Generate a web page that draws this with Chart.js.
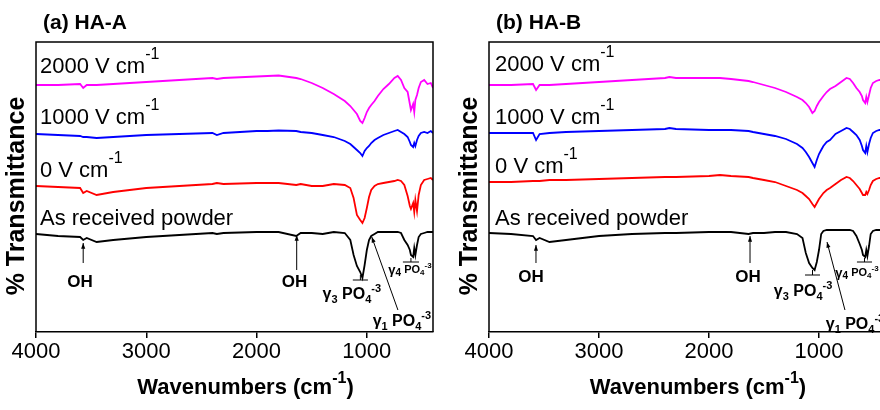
<!DOCTYPE html>
<html>
<head>
<meta charset="utf-8">
<script src="https://cdn.jsdelivr.net/npm/chart.js@4.4.1/dist/chart.umd.min.js"></script>
<style>
  body { margin: 0; background: #fff; }
  #wrap { position: relative; width: 880px; height: 410px; overflow: hidden; }
  canvas { position: absolute; top: 0; }
</style>
</head>
<body>
<div id="wrap">
  <canvas id="chartA" width="440" height="410" style="left:0"></canvas>
  <canvas id="chartB" width="452" height="410" style="left:440px"></canvas>
</div>
<script>
// Datos (transmitancia en unidades arbitrarias, curvas desplazadas)

const wavenumbers = [4000, 3800, 3600, 3572, 3540, 3450, 3300, 3000, 2700, 2400, 2360, 2300, 2000, 1900, 1800, 1640, 1600, 1500, 1400, 1300, 1200, 1150, 1120, 1090, 1060, 1040, 1020, 1000, 980, 960, 930, 900, 850, 800, 750, 720, 690, 660, 630, 610, 600, 580, 570, 560, 545, 530, 510, 480, 450, 420, 400];
const xTicks = [4000, 3000, 2000, 1000];

const seriesNames = ["2000 V cm", "1000 V cm", "0 V cm", "As received powder"];
const seriesSup = ["-1", "-1", "-1", ""];
const seriesColors = ["#ff00ff", "#0000ff", "#ff0000", "#000000"];

// (a) HA-A
const haA_2000 = [247,247,248,244,247,247,248,250,252,254,253,254,255.5,256,256.5,254,253,249,244,238,231,226,222,218,211,209,214,220,224,227,231,236,243,248,254,256,252,244,240,228,222,228,220,232,237,244,250,252,248,249,244];
const haA_1000 = [198,197,196,195,195,194,195,197,198,199,197,199,201,201,201.5,201,200,199,197,195,191,188,185,182,179,176,181,184,186,189,192,194,197,199,201,202,200,198,195,190,187,185,189,186,192,196,199,200,199,201,199];
const haA_0 = [146,145,144,139,141,137,140,144,146,148,149,148,149,149,149,147,148,146,146,148,147,144,134,117,112,109,114,124,135,142,146,148,149,150,151,152,151,147,136,126,123,129,120,132,121,137,147,152,153,154,152];
const haA_powder = [98,96,95,92,94,90,92,95,97,99,98,99,100,100,100,96,99,99,98,100,99,92,77,66,60,54,67,82,92,96,98,100,100,100,100,100,99,92,87,82,77,75,84,77,87,95,98,99,100,100,100];

// (b) HA-B
const haB_2000 = [247,247,248,242,247,247,248,250,252,254,255,254,254,254,253,251,250,247,244,240,235,232,229,225,219,221,226,230,233,236,240,243,246,250,254,253,249,244,240,236,232,229,235,230,237,244,249,251,252,252,251];
const haB_1000 = [199,199,199,192,198,199,200,201,202,203,204,203,202,202,202,201,200,198,196,193,188,184,180,175,169,165,172,178,182,186,190,192,198,201,204,203,200,197,192,186,182,179,186,180,188,194,199,201,202,202,201];
const haB_0 = [150,150,151,151,151,152,152,153,154,155,155,155,156,157,156,155,154,152,150,146,142,139,136,133,128,125,129,133,136,139,142,144,148,152,155,154,151,147,143,139,137,137,140,138,142,147,151,153,154,154,154];
const haB_powder = [99,98,96,92,94,90,92,96,98,99,99,99,100,100,100,98,99,99,100,100,98,94,79,69,64,62,70,82,98,101,102,102,102,102,102,102,101,96,88,82,77,75,82,76,86,98,101,102,102,102,102];

const FONT = "'Liberation Sans', Arial, sans-serif";

// Texto con subindices / superindices: [texto, tamaño, negrita, desplazamiento]
function rich(ctx, parts, px, py, align) {
  let total = 0;
  parts.forEach((p) => {
    ctx.font = (p[2] ? "bold " : "") + p[1] + "px " + FONT;
    p.w = ctx.measureText(p[0]).width;
    total += p.w;
  });
  let cx = align === "center" ? px - total / 2 : px;
  ctx.textAlign = "left";
  ctx.textBaseline = "middle";
  parts.forEach((p) => {
    ctx.font = (p[2] ? "bold " : "") + p[1] + "px " + FONT;
    ctx.fillText(p[0], cx, py + (p[3] || 0));
    cx += p.w;
  });
}

function arrow(ctx, x1, y1, x2, y2) {
  ctx.beginPath();
  ctx.moveTo(x1, y1);
  ctx.lineTo(x2, y2);
  ctx.stroke();
  const ang = Math.atan2(y2 - y1, x2 - x1);
  ctx.beginPath();
  ctx.moveTo(x2, y2);
  ctx.lineTo(x2 - 6 * Math.cos(ang - 0.35), y2 - 6 * Math.sin(ang - 0.35));
  ctx.lineTo(x2 - 6 * Math.cos(ang + 0.35), y2 - 6 * Math.sin(ang + 0.35));
  ctx.closePath();
  ctx.fill();
}

function bracket(ctx, x, y, w1, w2, v, vTick) {
  const xa = x.getPixelForValue(w1), xb = x.getPixelForValue(w2);
  const yy = y.getPixelForValue(v);
  ctx.beginPath();
  ctx.moveTo(xa, yy);
  ctx.lineTo(xb, yy);
  ctx.moveTo((xa + xb) / 2, yy);
  ctx.lineTo((xa + xb) / 2, y.getPixelForValue(vTick));
  ctx.stroke();
}

const gamma = (n, big, small) => [["γ", big, true], [n, small, true, big * 0.3], [" PO", big, true], ["4", small, true, big * 0.3], ["-3", small, true, -big * 0.35]];

const ftirText = {
  id: "ftirText",
  afterDraw(chart) {
    const o = chart.options.plugins.ftirText;
    const { ctx, chartArea: a, scales: { x, y } } = chart;
    const X = (w) => x.getPixelForValue(w);
    const Y = (v) => y.getPixelForValue(v);
    ctx.save();
    ctx.fillStyle = "#000";
    ctx.strokeStyle = "#000";

    // marco
    ctx.lineWidth = 1.5;
    ctx.beginPath();
    ctx.moveTo(a.left, a.bottom);
    ctx.lineTo(a.left, a.top);
    ctx.lineTo(a.right, a.top);
    ctx.lineTo(a.right, a.bottom);
    ctx.stroke();

    // titulo del panel
    rich(ctx, [[o.title, 21, true]], a.left + 7, a.top - 19, "left");

    // nombres de las curvas
    seriesNames.forEach((name, i) => {
      const parts = [[name, 22, false]];
      if (seriesSup[i]) parts.push([seriesSup[i], 16, false, -12]);
      rich(ctx, parts, X(o.labelW), Y(o.labelV[i]), "left");
    });

    // titulos de ejes
    rich(ctx, [["Wavenumbers (cm", 22, true], ["-1", 16, true, -9], [")", 22, true]], X(2100), a.bottom + 56, "center");
    ctx.save();
    ctx.translate(a.left - 19, 196);
    ctx.rotate(-Math.PI / 2);
    rich(ctx, [["% Transmittance", 25, true]], 0, 0, "center");
    ctx.restore();

    // anotaciones
    ctx.lineWidth = 1;
    o.oh.forEach((p) => {
      rich(ctx, [["OH", 17, true]], X(p.tw), Y(p.tv), "center");
      arrow(ctx, X(p.aw), Y(p.a1), X(p.aw), Y(p.a2));
    });
    const g3 = o.g3, g4 = o.g4, g1 = o.g1;
    rich(ctx, gamma("3", 16, 11), X(g3.tw), Y(g3.tv), "center");
    bracket(ctx, x, y, g3.b1, g3.b2, g3.bv, g3.bv + 5);
    rich(ctx, [["γ", 13, true], ["4", 10, true, 3], [" PO", 11, true], ["4", 8, true, 3], ["-3", 8, true, -4]], X(g4.tw), Y(g4.tv), "center");
    bracket(ctx, x, y, g4.b1, g4.b2, g4.bv, g4.bv + 4);
    rich(ctx, gamma("1", 16, 11), X(g1.tw), Y(g1.tv), "center");
    arrow(ctx, X(g1.w1), Y(g1.v1), X(g1.w2), Y(g1.v2));
    ctx.restore();
  }
};

function makeChart(id, series, padLeft, extra) {
  const datasets = series.map((vals, i) => ({
    data: wavenumbers.map((w, j) => ({ x: w, y: vals[j] })),
    borderColor: seriesColors[i],
    borderWidth: 1.8,
    pointRadius: 0,
    tension: 0
  }));
  return new Chart(document.getElementById(id), {
    type: "line",
    data: { datasets },
    plugins: [ftirText],
    options: {
      responsive: false,
      animation: false,
      devicePixelRatio: 1,
      layout: { padding: { left: padLeft, right: 7, top: 42, bottom: 0 } },
      plugins: { legend: { display: false }, tooltip: { enabled: false }, ftirText: extra },
      scales: {
        x: {
          type: "linear",
          reverse: true,
          min: 400,
          max: 4000,
          afterBuildTicks: (s) => { s.ticks = xTicks.map((v) => ({ value: v })); },
          afterFit: (s) => { s.height = 78; },
          ticks: { font: { family: FONT, size: 22 }, color: "#000", padding: 1, maxRotation: 0, autoSkip: false, callback: (v) => String(v) },
          grid: { drawOnChartArea: false, drawTicks: true, tickLength: 6, color: "#000", lineWidth: 1.5 },
          border: { color: "#000", width: 1.5 }
        },
        y: { display: false, min: 0, max: 290 }
      }
    }
  });
}

makeChart("chartA", [haA_2000, haA_1000, haA_0, haA_powder], 36, {
  title: "(a) HA-A",
  labelW: 3964,
  labelV: [265, 214, 161, 113],
  oh: [{ tw: 3600, tv: 50, aw: 3572, a1: 69, a2: 89 }, { tw: 1655, tv: 50, aw: 1636, a1: 62, a2: 97 }],
  g3: { tw: 1136, tv: 37, b1: 1127, b2: 990, bv: 52 },
  g4: { tw: 609, tv: 62, b1: 673, b2: 527, bv: 70 },
  g1: { tw: 682, tv: 10, w1: 718, v1: 22, w2: 955, v2: 95 }
});

makeChart("chartB", [haB_2000, haB_1000, haB_0, haB_powder], 49, {
  title: "(b) HA-B",
  labelW: 3945,
  labelV: [267, 214, 165, 113],
  oh: [{ tw: 3618, tv: 55, aw: 3573, a1: 69, a2: 87 }, { tw: 1645, tv: 55, aw: 1627, a1: 69, a2: 96 }],
  g3: { tw: 1145, tv: 40, b1: 1127, b2: 991, bv: 57 },
  g4: { tw: 655, tv: 59, b1: 655, b2: 518, bv: 70 },
  g1: { tw: 673, tv: 7, w1: 764, v1: 22, w2: 927, v2: 90 }
});
</script>
</body>
</html>
